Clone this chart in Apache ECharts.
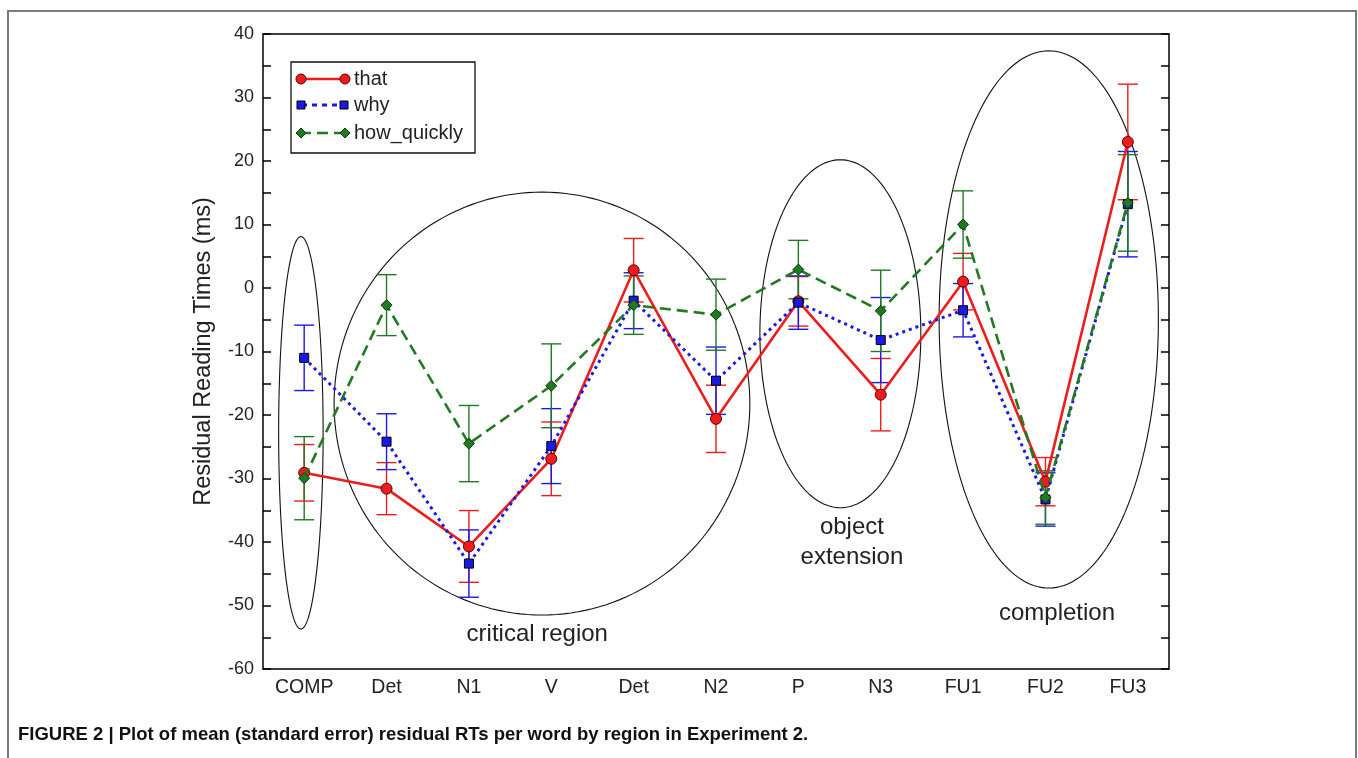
<!DOCTYPE html>
<html>
<head>
<meta charset="utf-8">
<script src="https://cdn.jsdelivr.net/npm/echarts@6/dist/echarts.min.js"></script>
<style>
html, body { margin: 0; padding: 0; background: #fff; }
#chart { width: 1358px; height: 758px; }
</style>
</head>
<body>
<div id="chart"></div>
<script>
// regions on the x axis
var regions = ['COMP', 'Det', 'N1', 'V', 'Det', 'N2', 'P', 'N3', 'FU1', 'FU2', 'FU3'];

// mean residual RTs (ms) and standard errors
var thatMean = [-29.1, -31.6, -40.7, -26.9, 2.8, -20.6, -2.1, -16.8, 1.0, -30.5, 23.0];
var thatSE   = [4.45, 4.1, 5.65, 5.8, 5.0, 5.3, 3.9, 5.7, 4.45, 3.8, 9.1];
var whyMean  = [-11.0, -24.2, -43.4, -24.9, -2.0, -14.6, -2.3, -8.2, -3.5, -33.3, 13.2];
var whySE    = [5.15, 4.4, 5.3, 5.9, 4.4, 5.3, 4.2, 6.7, 4.2, 4.2, 8.3];
var howMean  = [-29.95, -2.7, -24.5, -15.4, -2.7, -4.2, 2.9, -3.6, 10.0, -33.0, 13.4];
var howSE    = [6.55, 4.8, 6.0, 6.6, 4.6, 5.6, 4.6, 6.4, 5.3, 4.2, 7.6];

// circled regions: centre (category index, ms) and radii (categories, ms)
var circleCx = [-0.04, 2.887, 6.51, 9.04];
var circleCy = [-22.8, -18.2, -7.2, -4.95];
var circleRx = [0.27, 2.524, 0.977, 1.331];
var circleRy = [30.9, 33.3, 27.4, 42.3];
var circleText = ['', 'critical region', 'object\nextension', 'completion'];
var textX = [0, 2.83, 6.65, 9.14];
var textY = [0, -54.5, -40.0, -51.2];

var yTicks = [-60, -50, -40, -30, -20, -10, 0, 10, 20, 30, 40];

var RED = '#ee1c1c', BLUE = '#1a1ae6', GREEN = '#217a21';
var FONT = '"Liberation Sans", Arial, Helvetica, sans-serif';

var chart = echarts.init(document.getElementById('chart'));

function errData(mean, se) {
  return mean.map(function (m, i) { return [i, m - se[i], m + se[i]]; });
}

function errSeries(name, mean, se, color) {
  return {
    name: name + '_err',
    type: 'custom',
    z: 2,
    silent: true,
    data: errData(mean, se),
    encode: { x: 0, y: [1, 2] },
    renderItem: function (params, api) {
      var lo = api.coord([api.value(0), api.value(1)]);
      var hi = api.coord([api.value(0), api.value(2)]);
      var st = { stroke: color, lineWidth: 1.4 };
      return {
        type: 'group',
        children: [
          { type: 'line', shape: { x1: hi[0], y1: hi[1], x2: lo[0], y2: lo[1] }, style: st },
          { type: 'line', shape: { x1: hi[0] - 10, y1: hi[1], x2: hi[0] + 10, y2: hi[1] }, style: st },
          { type: 'line', shape: { x1: lo[0] - 10, y1: lo[1], x2: lo[0] + 10, y2: lo[1] }, style: st }
        ]
      };
    }
  };
}

var circleData = circleCx.map(function (c, i) {
  return [c, circleCy[i], circleRx[i], circleRy[i], textX[i], textY[i]];
});

var axisLineStyle = { color: '#000', width: 1.5 };

var option = {
  animation: false,
  backgroundColor: '#fff',
  grid: { left: 263, top: 34, width: 906, height: 635, containLabel: false },
  xAxis: [{
    type: 'category',
    data: regions,
    boundaryGap: true,
    axisLine: { onZero: false, lineStyle: axisLineStyle },
    axisTick: { alignWithLabel: true, inside: true, length: 9, lineStyle: axisLineStyle },
    axisLabel: { color: '#222', fontSize: 19.5, fontFamily: FONT, margin: 9, interval: 0 },
    splitLine: { show: false }
  }, {
    type: 'category',
    position: 'top',
    data: regions,
    boundaryGap: true,
    axisLine: { onZero: false, lineStyle: axisLineStyle },
    axisTick: { alignWithLabel: true, inside: true, length: 9, lineStyle: axisLineStyle },
    axisLabel: { show: false },
    splitLine: { show: false }
  }],
  yAxis: [{
    type: 'value',
    min: -60, max: 40, interval: 5,
    name: 'Residual Reading Times (ms)',
    nameLocation: 'middle',
    nameGap: 47,
    nameTextStyle: { color: '#222', fontSize: 23.5, fontFamily: FONT },
    axisLine: { show: true, onZero: false, lineStyle: axisLineStyle },
    axisTick: { show: true, inside: true, length: 8, lineStyle: axisLineStyle },
    axisLabel: {
      color: '#222', fontSize: 18, fontFamily: FONT, margin: 9,
      formatter: function (v) { return yTicks.indexOf(v) >= 0 ? String(v) : ''; }
    },
    splitLine: { show: false }
  }, {
    type: 'value',
    position: 'right',
    min: -60, max: 40, interval: 5,
    axisLine: { show: true, onZero: false, lineStyle: axisLineStyle },
    axisTick: { show: true, inside: true, length: 8, lineStyle: axisLineStyle },
    axisLabel: { show: false },
    splitLine: { show: false }
  }],
  series: [
    {
      name: 'circles',
      type: 'custom',
      z: 1,
      silent: true,
      data: circleData,
      encode: { x: 0, y: 1 },
      renderItem: function (params, api) {
        var i = params.dataIndex;
        var p0 = api.coord([0, api.value(1)]);
        var p1 = api.coord([1, api.value(1)]);
        var unit = p1[0] - p0[0];
        var cx = p0[0] + api.value(0) * unit;
        var cy = p0[1];
        var rx = api.value(2) * unit;
        var ry = Math.abs(api.coord([0, api.value(1) + api.value(3)])[1] - cy);
        var pts = [];
        for (var k = 0; k < 180; k++) {
          var a = k / 180 * Math.PI * 2;
          pts.push([cx + rx * Math.cos(a), cy + ry * Math.sin(a)]);
        }
        var kids = [{
          type: 'polygon',
          shape: { points: pts },
          style: { fill: 'none', stroke: '#111', lineWidth: 1.1 }
        }];
        if (circleText[i]) {
          var t0 = api.coord([0, api.value(5)]);
          kids.push({
            type: 'text',
            x: t0[0] + api.value(4) * unit,
            y: t0[1],
            style: {
              text: circleText[i], fill: '#222', fontSize: 24, fontFamily: FONT,
              align: 'center', verticalAlign: 'middle', lineHeight: 30
            }
          });
        }
        return { type: 'group', children: kids };
      }
    },
    errSeries('that', thatMean, thatSE, RED),
    errSeries('why', whyMean, whySE, BLUE),
    errSeries('how_quickly', howMean, howSE, GREEN),
    {
      name: 'that', type: 'line', z: 3, data: thatMean,
      symbol: 'circle', symbolSize: 11,
      lineStyle: { color: RED, width: 2.6, type: 'solid' },
      itemStyle: { color: RED, borderColor: '#5a0000', borderWidth: 1 }
    },
    {
      name: 'why', type: 'line', z: 4, data: whyMean,
      symbol: 'rect', symbolSize: 9,
      lineStyle: { color: BLUE, width: 3, type: [3, 4] },
      itemStyle: { color: BLUE, borderColor: '#000', borderWidth: 1 }
    },
    {
      name: 'how_quickly', type: 'line', z: 5, data: howMean,
      symbol: 'diamond', symbolSize: 11,
      lineStyle: { color: GREEN, width: 2.6, type: [11, 6] },
      itemStyle: { color: GREEN, borderColor: '#0b3a0b', borderWidth: 1 }
    }
  ],
  graphic: [
    // figure frame
    { type: 'polyline', z: 10, shape: { points: [[8, 758], [8, 11], [1356, 11], [1356, 758]] },
      style: { stroke: '#7a7a7a', lineWidth: 2, fill: 'none' } },
    // legend
    { type: 'rect', z: 10, shape: { x: 291, y: 62, width: 184, height: 91 },
      style: { fill: '#fff', stroke: '#111', lineWidth: 1.3 } },
    { type: 'line', z: 11, shape: { x1: 300, y1: 79, x2: 346, y2: 79 }, style: { stroke: RED, lineWidth: 2.6 } },
    { type: 'circle', z: 12, shape: { cx: 301, cy: 79, r: 5 }, style: { fill: RED, stroke: '#5a0000', lineWidth: 1 } },
    { type: 'circle', z: 12, shape: { cx: 345, cy: 79, r: 5 }, style: { fill: RED, stroke: '#5a0000', lineWidth: 1 } },
    { type: 'text', z: 12, x: 354, y: 79, style: { text: 'that', fill: '#222', fontSize: 20, fontFamily: FONT, verticalAlign: 'middle' } },
    { type: 'line', z: 11, shape: { x1: 302, y1: 105, x2: 344, y2: 105 }, style: { stroke: BLUE, lineWidth: 3, lineDash: [5, 5] } },
    { type: 'rect', z: 12, shape: { x: 297, y: 101, width: 8, height: 8 }, style: { fill: BLUE, stroke: '#000', lineWidth: 1 } },
    { type: 'rect', z: 12, shape: { x: 340, y: 101, width: 8, height: 8 }, style: { fill: BLUE, stroke: '#000', lineWidth: 1 } },
    { type: 'text', z: 12, x: 354, y: 105, style: { text: 'why', fill: '#222', fontSize: 20, fontFamily: FONT, verticalAlign: 'middle' } },
    { type: 'line', z: 11, shape: { x1: 300, y1: 133, x2: 346, y2: 133 }, style: { stroke: GREEN, lineWidth: 2.6, lineDash: [11, 6] } },
    { type: 'polygon', z: 12, shape: { points: [[301, 128], [306, 133], [301, 138], [296, 133]] }, style: { fill: GREEN, stroke: '#0b3a0b', lineWidth: 1 } },
    { type: 'polygon', z: 12, shape: { points: [[345, 128], [350, 133], [345, 138], [340, 133]] }, style: { fill: GREEN, stroke: '#0b3a0b', lineWidth: 1 } },
    { type: 'text', z: 12, x: 354, y: 133, style: { text: 'how_quickly', fill: '#222', fontSize: 20, fontFamily: FONT, verticalAlign: 'middle' } },
    // caption
    { type: 'text', z: 12, x: 18, y: 735,
      style: { text: 'FIGURE 2 | Plot of mean (standard error) residual RTs per word by region in Experiment 2.',
        fill: '#111', fontSize: 18.5, fontWeight: 'bold',
        fontFamily: '"Liberation Sans Narrow", "Liberation Sans", Arial, sans-serif', verticalAlign: 'middle' } }
  ]
};

chart.setOption(option);
window.addEventListener('resize', function () { chart.resize(); });
</script>
</body>
</html>
